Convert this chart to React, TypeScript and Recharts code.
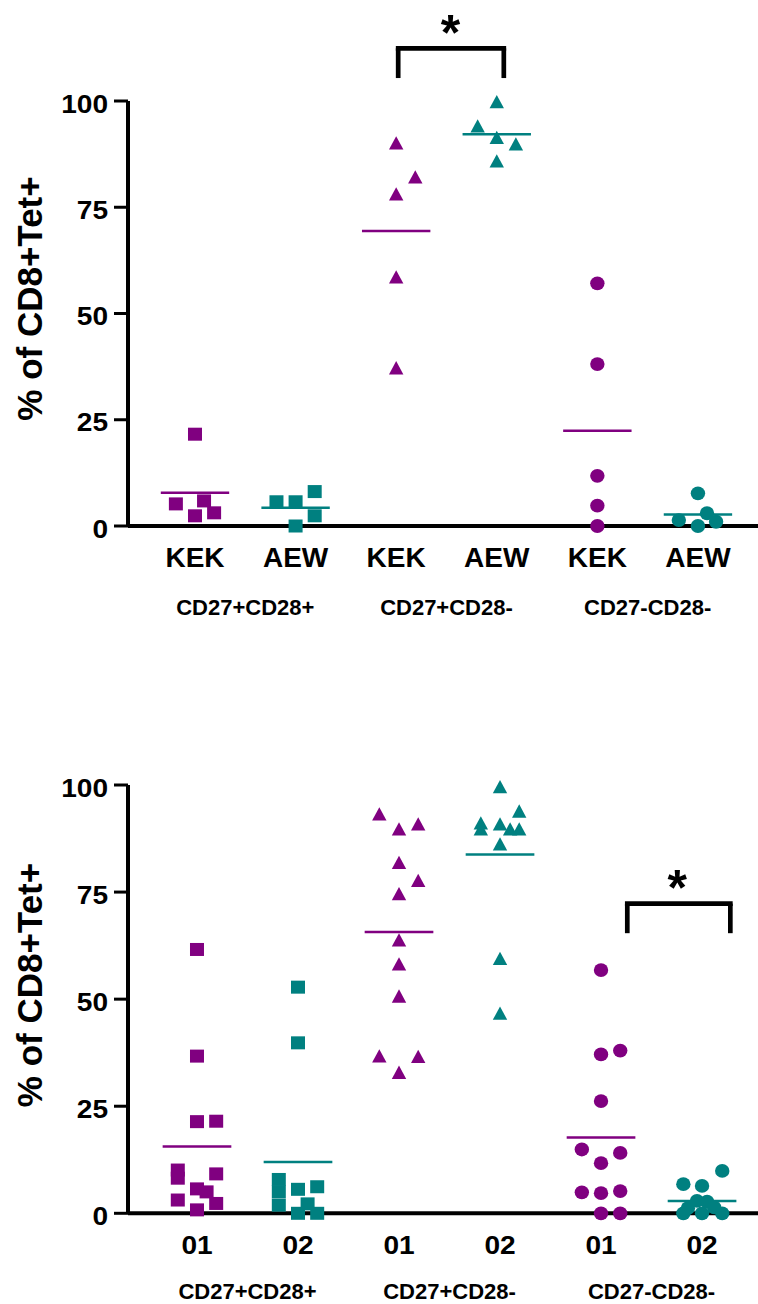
import React from 'react';
import { ScatterChart, Scatter, XAxis, YAxis, ReferenceLine, ReferenceDot } from 'recharts';

const PURPLE = '#800080';
const TEAL = '#008080';
const FONT = '"Liberation Sans", Arial, Helvetica, sans-serif';

// ---------- shared labels ----------
const topTickLabels = ['KEK', 'AEW', 'KEK', 'AEW', 'KEK', 'AEW'];
const bottomTickLabels = ['01', '02', '01', '02', '01', '02'];
const groupLabels = ['CD27+CD28+', 'CD27+CD28-', 'CD27-CD28-'];
const groupTickPos = [0.5, 2.5, 4.5];
const yTicks = [0, 25, 50, 75, 100];
const yLabel = '% of CD8+Tet+';

// ---------- top chart (KEK / AEW) ----------
const topKEK1 = [21.6, 5.2, 5.9, 2.4, 3.1];
const topKEK1Jit = [0, -0.19, 0.09, 0, 0.19];
const topAEW1 = [5.7, 5.7, 8.1, 0, 2.4];
const topAEW1Jit = [-0.19, 0, 0.19, 0, 0.19];
const topKEK2 = [90.1, 82.1, 78.1, 58.6, 37.2];
const topKEK2Jit = [0, 0.19, 0, 0, 0];
const topAEW2 = [99.8, 94.1, 91.4, 89.9, 85.9];
const topAEW2Jit = [0, -0.19, 0, 0.19, 0];
const topKEK3 = [57.1, 38.1, 11.8, 4.8, 0];
const topKEK3Jit = [0, 0, 0, 0, 0];
const topAEW3 = [7.7, 3.0, 1.4, 1.0, 0];
const topAEW3Jit = [0, 0.09, -0.19, 0.18, 0];
const topMeans = [7.8, 4.3, 69.4, 92.2, 22.4, 2.7];
// significance bracket: [xStart, xEnd, yTop, yLegBottom], star [x, y]
const topBracket = [2.02, 3.07, 112.4, 105.4];
const topStar = [2.54, 118.4];

// ---------- bottom chart (01 / 02) ----------
const botG1a = [61.6, 36.7, 21.4, 21.5, 10.1, 8.2, 9.2, 3.1, 5.7, 5.0, 2.3, 0.8];
const botG1aJit = [0, 0, 0, 0.19, -0.19, -0.19, 0.19, -0.19, 0, 0.095, 0.19, 0];
const botG1b = [52.8, 39.8, 7.9, 5.0, 1.9, 5.6, 6.2, 2.2, 0, 0];
const botG1bJit = [0, 0, -0.19, -0.19, -0.19, 0, 0.19, 0.095, 0, 0.19];
const botG2a = [93.2, 89.7, 90.9, 81.9, 77.7, 74.6, 63.8, 58.2, 50.7, 36.7, 36.6, 32.9];
const botG2aJit = [-0.195, 0, 0.19, 0, 0.19, 0, 0, 0, 0, -0.195, 0.19, 0];
const botG2b = [99.6, 93.9, 91.1, 89.7, 90.9, 89.7, 89.7, 86.2, 59.5, 46.7];
const botG2bJit = [0, 0.19, -0.19, -0.19, 0, 0.1, 0.19, 0, 0, 0];
const botG3a = [56.8, 37.1, 38.0, 26.2, 14.9, 14.1, 11.7, 4.9, 4.7, 5.2, 0, 0];
const botG3aJit = [0, 0, 0.19, 0, -0.19, 0.19, 0, -0.19, 0, 0.19, 0, 0.19];
const botG3b = [9.9, 6.8, 6.4, 2.9, 2.7, 1.2, 1.4, 0, 0, 0];
const botG3bJit = [0.2, -0.185, 0, -0.05, 0.05, -0.14, 0.12, -0.185, 0, 0.2];
const botMeans = [15.6, 12.0, 65.7, 83.8, 17.7, 2.9];
const botBracket = [4.26, 5.28, 72.3, 65.4];
const botStar = [4.755, 78.2];

const colColors = [PURPLE, TEAL, PURPLE, TEAL, PURPLE, TEAL];
const colShapes = ['square', 'square', 'triangle', 'triangle', 'circle', 'circle'];

function makeShape(kind: string, color: string) {
  return (props: any) => {
    const { cx, cy } = props;
    if (cx == null || cy == null) return null;
    if (kind === 'square') {
      return <rect x={cx - 7} y={cy - 6.5} width={14} height={13} fill={color} />;
    }
    if (kind === 'triangle') {
      return (
        <polygon
          points={`${cx},${cy - 6.8} ${cx + 7.2},${cy + 6.5} ${cx - 7.2},${cy + 6.5}`}
          fill={color}
        />
      );
    }
    return <ellipse cx={cx} cy={cy} rx={7.2} ry={6.9} fill={color} />;
  };
}

const NoShape = () => <g />;

type Cfg = {
  top: number;
  height: number;
  marginTop: number;
  h2: number;
  xDomain: [number, number];
  tickLabels: string[];
  tickFont: number;
  tickScale: number;
  tickDy: number;
  groupDy: number;
  cols: { values: number[]; jit: number[] }[];
  means: number[];
  bracket: number[];
  star: number[];
  yLabelY: number;
};

const MAIN = 0;
const GRP = 1;

function DotPlot({ cfg }: { cfg: Cfg }) {
  const XTick = (props: any) => {
    const { x, y, payload } = props;
    const label = cfg.tickLabels[Math.round(payload.value)];
    return (
      <text
        transform={`translate(${x},${y + cfg.tickDy}) scale(${cfg.tickScale},1)`}
        textAnchor="middle"
        fontSize={cfg.tickFont}
        fontWeight="bold"
        fontFamily={FONT}
        fill="#000"
      >
        {label}
      </text>
    );
  };
  const GroupTick = (props: any) => {
    const { x, y, payload } = props;
    const label = groupLabels[Math.floor(Number(payload.value) / 2)];
    return (
      <text
        x={x}
        y={y + cfg.groupDy}
        textAnchor="middle"
        fontSize={22}
        fontWeight="bold"
        fontFamily={FONT}
        fill="#000"
      >
        {label}
      </text>
    );
  };
  const YTick = (props: any) => {
    const { x, y, payload } = props;
    return (
      <text
        transform={`translate(${x},${y + 11.7}) scale(1.08,1)`}
        textAnchor="end"
        fontSize={26}
        fontWeight="bold"
        fontFamily={FONT}
        fill="#000"
      >
        {payload.value}
      </text>
    );
  };
  const YLabel = () => (
    <text
      x={42}
      y={cfg.yLabelY}
      transform={`rotate(-90, 42, ${cfg.yLabelY})`}
      textAnchor="middle"
      fontSize={35}
      fontWeight="bold"
      fontFamily={FONT}
      fill="#000"
    >
      {yLabel}
    </text>
  );
  const StarShape = (props: any) => {
    const { cx, cy } = props;
    return (
      <text
        x={cx}
        y={cy + 27}
        textAnchor="middle"
        fontSize={50}
        fontWeight="bold"
        fontFamily={FONT}
        fill="#000"
      >
        *
      </text>
    );
  };

  const [bx1, bx2, byTop, byBot] = cfg.bracket;

  return (
    <div style={{ position: 'absolute', left: 0, top: cfg.top }}>
      <ScatterChart
        width={758}
        height={cfg.height}
        margin={{ top: cfg.marginTop, right: 0, bottom: 0, left: 0 }}
      >
        <XAxis
          xAxisId={MAIN}
          type="number"
          dataKey="x"
          domain={cfg.xDomain}
          ticks={[0, 1, 2, 3, 4, 5]}
          interval={0}
          height={50}
          axisLine={{ stroke: '#000', strokeWidth: 4 }}
          tickLine={false}
          tickSize={0}
          tickMargin={0}
          tick={<XTick />}
        />
        <XAxis
          xAxisId={GRP}
          type="number"
          dataKey="x"
          domain={cfg.xDomain}
          ticks={groupTickPos}
          interval={0}
          height={cfg.h2}
          axisLine={false}
          tickLine={false}
          tickSize={0}
          tickMargin={0}
          tick={<GroupTick />}
        />
        <YAxis
          type="number"
          dataKey="y"
          domain={[0, 100]}
          ticks={yTicks}
          interval={0}
          width={128}
          axisLine={{ stroke: '#000', strokeWidth: 4 }}
          tickLine={{ stroke: '#000', strokeWidth: 3 }}
          tickSize={14}
          tickMargin={6}
          tick={<YTick />}
          label={<YLabel />}
        />
        {/* invisible series that binds the group-label axis to the same domain */}
        <Scatter
          xAxisId={GRP}
          data={groupTickPos.map((x) => ({ x, y: 0 }))}
          shape={<NoShape />}
          isAnimationActive={false}
        />
        {cfg.cols.map((c, ci) => (
          <Scatter
            key={`s${ci}`}
            xAxisId={MAIN}
            data={c.values.map((v, i) => ({ x: ci + c.jit[i], y: v }))}
            shape={makeShape(colShapes[ci], colColors[ci])}
            isAnimationActive={false}
          />
        ))}
        {cfg.means.map((m, ci) => (
          <ReferenceLine
            key={`m${ci}`}
            xAxisId={MAIN}
            segment={[
              { x: ci - 0.34, y: m },
              { x: ci + 0.34, y: m },
            ]}
            stroke={colColors[ci]}
            strokeWidth={2.5}
            ifOverflow="visible"
          />
        ))}
        <ReferenceLine
          xAxisId={MAIN}
          segment={[
            { x: bx1, y: byTop },
            { x: bx2, y: byTop },
          ]}
          stroke="#000"
          strokeWidth={4.7}
          strokeLinecap="square"
          ifOverflow="visible"
        />
        <ReferenceLine
          xAxisId={MAIN}
          segment={[
            { x: bx1, y: byTop },
            { x: bx1, y: byBot },
          ]}
          stroke="#000"
          strokeWidth={4.7}
          ifOverflow="visible"
        />
        <ReferenceLine
          xAxisId={MAIN}
          segment={[
            { x: bx2, y: byTop },
            { x: bx2, y: byBot },
          ]}
          stroke="#000"
          strokeWidth={4.7}
          ifOverflow="visible"
        />
        <ReferenceDot
          xAxisId={MAIN}
          x={cfg.star[0]}
          y={cfg.star[1]}
          r={1}
          ifOverflow="visible"
          shape={<StarShape />}
        />
      </ScatterChart>
    </div>
  );
}

const topCfg: Cfg = {
  top: 0,
  height: 652,
  marginTop: 101,
  h2: 76,
  xDomain: [-0.666, 5.597],
  tickLabels: topTickLabels,
  tickFont: 28,
  tickScale: 1,
  tickDy: 41,
  groupDy: 39,
  cols: [
    { values: topKEK1, jit: topKEK1Jit },
    { values: topAEW1, jit: topAEW1Jit },
    { values: topKEK2, jit: topKEK2Jit },
    { values: topAEW2, jit: topAEW2Jit },
    { values: topKEK3, jit: topKEK3Jit },
    { values: topAEW3, jit: topAEW3Jit },
  ],
  means: topMeans,
  bracket: topBracket,
  star: topStar,
  yLabelY: 298.5,
};

const botCfg: Cfg = {
  top: 652,
  height: 652,
  marginTop: 133,
  h2: 40.7,
  xDomain: [-0.683, 5.554],
  tickLabels: bottomTickLabels,
  tickFont: 26,
  tickScale: 1.08,
  tickDy: 41,
  groupDy: 35.2,
  cols: [
    { values: botG1a, jit: botG1aJit },
    { values: botG1b, jit: botG1bJit },
    { values: botG2a, jit: botG2aJit },
    { values: botG2b, jit: botG2bJit },
    { values: botG3a, jit: botG3aJit },
    { values: botG3b, jit: botG3bJit },
  ],
  means: botMeans,
  bracket: botBracket,
  star: botStar,
  yLabelY: 333,
};

export default function App() {
  return (
    <div
      style={{
        position: 'absolute',
        left: 0,
        top: 0,
        width: 758,
        height: 1304,
        background: '#fff',
        overflow: 'hidden',
      }}
    >
      <DotPlot cfg={topCfg} />
      <DotPlot cfg={botCfg} />
    </div>
  );
}
